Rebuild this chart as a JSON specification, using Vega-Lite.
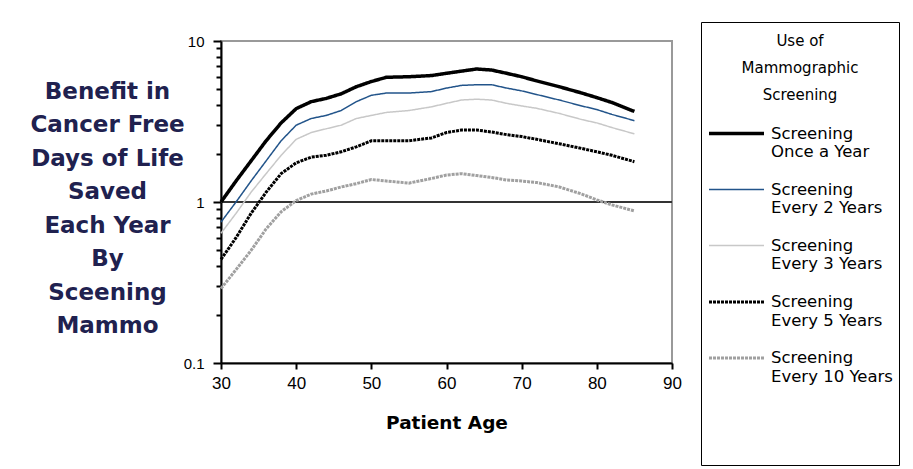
{
  "$schema": "https://vega.github.io/schema/vega-lite/v6.json",
  "width": 451,
  "height": 322,
  "autosize": "none",
  "padding": {"left": 221, "top": 41, "right": 241, "bottom": 106},
  "background": "white",
  "config": {
    "view": {"stroke": "#999999", "strokeWidth": 2},
    "font": "Liberation Sans"
  },
  "data": {"values": [
    {"series":"Once a Year","age":30,"benefit":1.0},{"series":"Once a Year","age":32,"benefit":1.35},{"series":"Once a Year","age":34,"benefit":1.8},{"series":"Once a Year","age":36,"benefit":2.4},{"series":"Once a Year","age":38,"benefit":3.1},{"series":"Once a Year","age":40,"benefit":3.8},{"series":"Once a Year","age":42,"benefit":4.2},{"series":"Once a Year","age":44,"benefit":4.4},{"series":"Once a Year","age":46,"benefit":4.7},{"series":"Once a Year","age":48,"benefit":5.2},{"series":"Once a Year","age":50,"benefit":5.6},{"series":"Once a Year","age":52,"benefit":5.95},{"series":"Once a Year","age":55,"benefit":6.0},{"series":"Once a Year","age":58,"benefit":6.1},{"series":"Once a Year","age":60,"benefit":6.3},{"series":"Once a Year","age":62,"benefit":6.5},{"series":"Once a Year","age":64,"benefit":6.7},{"series":"Once a Year","age":66,"benefit":6.6},{"series":"Once a Year","age":68,"benefit":6.3},{"series":"Once a Year","age":70,"benefit":6.0},{"series":"Once a Year","age":72,"benefit":5.65},{"series":"Once a Year","age":75,"benefit":5.2},{"series":"Once a Year","age":78,"benefit":4.75},{"series":"Once a Year","age":80,"benefit":4.45},{"series":"Once a Year","age":82,"benefit":4.15},{"series":"Once a Year","age":85,"benefit":3.65},
    {"series":"Every 2 Years","age":30,"benefit":0.75},{"series":"Every 2 Years","age":32,"benefit":1.0},{"series":"Every 2 Years","age":34,"benefit":1.35},{"series":"Every 2 Years","age":36,"benefit":1.8},{"series":"Every 2 Years","age":38,"benefit":2.4},{"series":"Every 2 Years","age":40,"benefit":3.0},{"series":"Every 2 Years","age":42,"benefit":3.3},{"series":"Every 2 Years","age":44,"benefit":3.45},{"series":"Every 2 Years","age":46,"benefit":3.7},{"series":"Every 2 Years","age":48,"benefit":4.2},{"series":"Every 2 Years","age":50,"benefit":4.6},{"series":"Every 2 Years","age":52,"benefit":4.75},{"series":"Every 2 Years","age":55,"benefit":4.75},{"series":"Every 2 Years","age":58,"benefit":4.85},{"series":"Every 2 Years","age":60,"benefit":5.1},{"series":"Every 2 Years","age":62,"benefit":5.3},{"series":"Every 2 Years","age":64,"benefit":5.35},{"series":"Every 2 Years","age":66,"benefit":5.35},{"series":"Every 2 Years","age":68,"benefit":5.1},{"series":"Every 2 Years","age":70,"benefit":4.9},{"series":"Every 2 Years","age":72,"benefit":4.65},{"series":"Every 2 Years","age":75,"benefit":4.3},{"series":"Every 2 Years","age":78,"benefit":3.95},{"series":"Every 2 Years","age":80,"benefit":3.75},{"series":"Every 2 Years","age":82,"benefit":3.5},{"series":"Every 2 Years","age":85,"benefit":3.2},
    {"series":"Every 3 Years","age":30,"benefit":0.64},{"series":"Every 3 Years","age":32,"benefit":0.85},{"series":"Every 3 Years","age":34,"benefit":1.15},{"series":"Every 3 Years","age":36,"benefit":1.5},{"series":"Every 3 Years","age":38,"benefit":1.95},{"series":"Every 3 Years","age":40,"benefit":2.45},{"series":"Every 3 Years","age":42,"benefit":2.7},{"series":"Every 3 Years","age":44,"benefit":2.85},{"series":"Every 3 Years","age":46,"benefit":3.0},{"series":"Every 3 Years","age":48,"benefit":3.3},{"series":"Every 3 Years","age":50,"benefit":3.45},{"series":"Every 3 Years","age":52,"benefit":3.6},{"series":"Every 3 Years","age":55,"benefit":3.7},{"series":"Every 3 Years","age":58,"benefit":3.9},{"series":"Every 3 Years","age":60,"benefit":4.1},{"series":"Every 3 Years","age":62,"benefit":4.3},{"series":"Every 3 Years","age":64,"benefit":4.35},{"series":"Every 3 Years","age":66,"benefit":4.3},{"series":"Every 3 Years","age":68,"benefit":4.1},{"series":"Every 3 Years","age":70,"benefit":3.95},{"series":"Every 3 Years","age":72,"benefit":3.82},{"series":"Every 3 Years","age":75,"benefit":3.55},{"series":"Every 3 Years","age":78,"benefit":3.25},{"series":"Every 3 Years","age":80,"benefit":3.1},{"series":"Every 3 Years","age":82,"benefit":2.9},{"series":"Every 3 Years","age":85,"benefit":2.65},
    {"series":"Every 5 Years","age":30,"benefit":0.44},{"series":"Every 5 Years","age":32,"benefit":0.6},{"series":"Every 5 Years","age":34,"benefit":0.85},{"series":"Every 5 Years","age":36,"benefit":1.15},{"series":"Every 5 Years","age":38,"benefit":1.5},{"series":"Every 5 Years","age":40,"benefit":1.75},{"series":"Every 5 Years","age":42,"benefit":1.9},{"series":"Every 5 Years","age":44,"benefit":1.95},{"series":"Every 5 Years","age":46,"benefit":2.05},{"series":"Every 5 Years","age":48,"benefit":2.2},{"series":"Every 5 Years","age":50,"benefit":2.4},{"series":"Every 5 Years","age":52,"benefit":2.4},{"series":"Every 5 Years","age":55,"benefit":2.4},{"series":"Every 5 Years","age":58,"benefit":2.5},{"series":"Every 5 Years","age":60,"benefit":2.7},{"series":"Every 5 Years","age":62,"benefit":2.8},{"series":"Every 5 Years","age":64,"benefit":2.8},{"series":"Every 5 Years","age":66,"benefit":2.72},{"series":"Every 5 Years","age":68,"benefit":2.62},{"series":"Every 5 Years","age":70,"benefit":2.55},{"series":"Every 5 Years","age":72,"benefit":2.45},{"series":"Every 5 Years","age":75,"benefit":2.3},{"series":"Every 5 Years","age":78,"benefit":2.15},{"series":"Every 5 Years","age":80,"benefit":2.05},{"series":"Every 5 Years","age":82,"benefit":1.95},{"series":"Every 5 Years","age":85,"benefit":1.78},
    {"series":"Every 10 Years","age":30,"benefit":0.29},{"series":"Every 10 Years","age":32,"benefit":0.38},{"series":"Every 10 Years","age":34,"benefit":0.5},{"series":"Every 10 Years","age":36,"benefit":0.68},{"series":"Every 10 Years","age":38,"benefit":0.87},{"series":"Every 10 Years","age":40,"benefit":1.02},{"series":"Every 10 Years","age":42,"benefit":1.12},{"series":"Every 10 Years","age":44,"benefit":1.17},{"series":"Every 10 Years","age":46,"benefit":1.24},{"series":"Every 10 Years","age":48,"benefit":1.3},{"series":"Every 10 Years","age":50,"benefit":1.38},{"series":"Every 10 Years","age":52,"benefit":1.35},{"series":"Every 10 Years","age":55,"benefit":1.31},{"series":"Every 10 Years","age":58,"benefit":1.4},{"series":"Every 10 Years","age":60,"benefit":1.47},{"series":"Every 10 Years","age":62,"benefit":1.5},{"series":"Every 10 Years","age":64,"benefit":1.46},{"series":"Every 10 Years","age":66,"benefit":1.42},{"series":"Every 10 Years","age":68,"benefit":1.37},{"series":"Every 10 Years","age":70,"benefit":1.35},{"series":"Every 10 Years","age":72,"benefit":1.32},{"series":"Every 10 Years","age":75,"benefit":1.24},{"series":"Every 10 Years","age":78,"benefit":1.12},{"series":"Every 10 Years","age":80,"benefit":1.03},{"series":"Every 10 Years","age":82,"benefit":0.96},{"series":"Every 10 Years","age":85,"benefit":0.88}
  ]},
  "encoding": {
    "x": {
      "field": "age", "type": "quantitative",
      "scale": {"domain": [30, 90], "nice": false, "zero": false},
      "axis": {
        "values": [30, 40, 50, 60, 70, 80, 90],
        "grid": false, "domainColor": "#000000", "domainWidth": 2, "tickColor": "#000000", "tickWidth": 2, "tickSize": 6,
        "labelFont": "Liberation Sans", "labelFontSize": 17, "labelColor": "#000000", "labelPadding": 6, "labelFlush": false,
        "title": "Patient Age", "titleFont": "DejaVu Sans", "titleFontSize": 18.5, "titleFontWeight": "bold", "titleColor": "#000000", "titlePadding": 22
      }
    },
    "y": {
      "field": "benefit", "type": "quantitative",
      "scale": {"type": "log", "domain": [0.1, 10], "nice": false},
      "axis": {
        "values": [0.1, 0.2, 0.3, 0.4, 0.5, 0.6, 0.7, 0.8, 0.9, 1, 2, 3, 4, 5, 6, 7, 8, 9, 10],
        "labelExpr": "datum.value == 0.1 ? '0.1' : datum.value == 1 ? '1' : datum.value == 10 ? '10' : ''",
        "tickSize": {"condition": {"test": "datum.value == 0.1 || datum.value == 1 || datum.value == 10", "value": 8}, "value": 5},
        "grid": false, "domainColor": "#000000", "domainWidth": 2, "tickColor": "#000000", "tickWidth": 2,
        "labelFont": "Liberation Sans", "labelFontSize": 15, "labelColor": "#000000", "labelPadding": 9, "labelFlush": false,
        "title": ["Benefit in", "Cancer Free", "Days of Life", "Saved", "Each Year", "By", "Sceening", "Mammo"],
        "titleAngle": 0, "titleX": -114, "titleY": 39, "titleAlign": "center", "titleBaseline": "top",
        "titleFont": "DejaVu Sans", "titleFontSize": 23, "titleFontWeight": "bold", "titleColor": "#20214f", "titleLineHeight": 33.5
      }
    }
  },
  "layer": [
    {
      "mark": {"type": "rule", "color": "#333333", "strokeWidth": 2},
      "encoding": {"y": {"datum": 1, "type": "quantitative"}, "x": {"datum": 30, "type": "quantitative"}, "x2": {"datum": 90}}
    },
    {
      "mark": {"type": "line", "interpolate": "linear"},
      "encoding": {
        "color": {
          "field": "series", "type": "nominal",
          "scale": {"domain": ["Once a Year", "Every 2 Years", "Every 3 Years", "Every 5 Years", "Every 10 Years"], "range": ["#000000", "#22548a", "#c8c8c8", "#000000", "#a0a0a0"]},
          "legend": {
            "title": ["Use of", "Mammographic", "Screening"],
            "orient": "none", "legendX": 480, "legendY": -19,
            "titleAnchor": "middle", "titleAlign": "center", "titleBaseline": "line-top", "titleFont": "DejaVu Sans", "titleFontSize": 15, "titleFontWeight": "normal", "titleColor": "#000000", "titleLineHeight": 27, "titlePadding": 7,
            "strokeColor": "#000000", "padding": 6,
            "symbolType": "stroke", "symbolSize": 3025,
            "labelFont": "DejaVu Sans", "labelFontSize": 16.5, "labelColor": "#000000", "labelBaseline": "middle", "labelLimit": 220, "labelOffset": 5,
            "labelExpr": "datum.label == 'Every 10 Years' ? ['Screening', datum.label, '', '', '', ''] : ['Screening', datum.label]",
            "rowPadding": 0
          }
        },
        "strokeWidth": {
          "field": "series", "type": "nominal",
          "scale": {"type": "ordinal", "domain": ["Once a Year", "Every 2 Years", "Every 3 Years", "Every 5 Years", "Every 10 Years"], "range": [3.5, 1.5, 1.5, 3, 3]}
        },
        "strokeDash": {
          "field": "series", "type": "nominal",
          "scale": {"type": "ordinal", "domain": ["Once a Year", "Every 2 Years", "Every 3 Years", "Every 5 Years", "Every 10 Years"], "range": [[1, 0], [1, 0], [1, 0], [3, 1], [3, 1]]}
        }
      }
    }
  ]
}
